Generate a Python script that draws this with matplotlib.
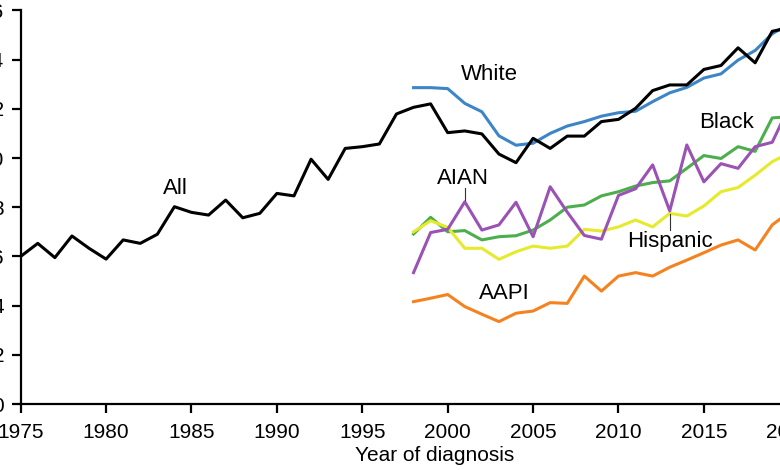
import matplotlib.pyplot as plt

plt.rcParams['font.family'] = ['Liberation Sans', 'DejaVu Sans']

# incidence rates
years_all = list(range(1975, 2021))
all_rate = [6.0, 6.53, 5.95, 6.83, 6.33, 5.89, 6.67, 6.53, 6.9, 8.02,
            7.79, 7.68, 8.29, 7.57, 7.75, 8.56, 8.46, 9.95, 9.13, 10.39,
            10.46, 10.57, 11.79, 12.06, 12.2, 11.03, 11.1, 10.98, 10.16, 9.81,
            10.8, 10.39, 10.89, 10.89, 11.48, 11.57, 12.02, 12.74, 12.97, 12.97,
            13.6, 13.76, 14.48, 13.87, 15.15, 15.3]

years_race = list(range(1998, 2021))
white = [12.86, 12.86, 12.82, 12.22, 11.88, 10.9, 10.52, 10.6, 11.0, 11.3,
         11.48, 11.7, 11.84, 11.9, 12.29, 12.65, 12.87, 13.25, 13.42, 13.98,
         14.37, 15.05, 15.45]
black = [6.91, 7.59, 7.0, 7.05, 6.67, 6.8, 6.84, 7.07, 7.48, 8.0,
         8.09, 8.46, 8.63, 8.86, 9.0, 9.07, 9.58, 10.1, 9.98, 10.46,
         10.27, 11.63, 11.68]
aian = [5.34, 6.97, 7.1, 8.22, 7.07, 7.28, 8.2, 6.8, 8.83, 7.8,
        6.85, 6.7, 8.48, 8.75, 9.72, 7.85, 10.53, 9.03, 9.77, 9.58,
        10.46, 10.64, 12.1]
hispanic = [7.0, 7.45, 7.18, 6.33, 6.33, 5.88, 6.19, 6.42, 6.33, 6.42,
            7.1, 7.03, 7.2, 7.48, 7.2, 7.75, 7.64, 8.05, 8.63, 8.8,
            9.3, 9.85, 10.2]
aapi = [4.16, 4.3, 4.45, 3.96, 3.65, 3.35, 3.69, 3.78, 4.12, 4.09,
        5.2, 4.59, 5.2, 5.34, 5.2, 5.56, 5.85, 6.15, 6.46, 6.67,
        6.26, 7.28, 7.8]

fig = plt.figure(figsize=(7.8, 4.7), dpi=100)
ax = fig.add_axes([20.7 / 780, 66 / 470, 768.6 / 780, 393.6 / 470])

lw = 2.2
ax.plot(years_race, white, color='#3d85c6', lw=lw)
ax.plot(years_race, black, color='#4cae4c', lw=lw)
ax.plot(years_race, hispanic, color='#e6ea2c', lw=lw)
ax.plot(years_race, aian, color='#9b52b5', lw=lw)
ax.plot(years_race, aapi, color='#f5821f', lw=lw)
ax.plot(years_all, all_rate, color='black', lw=lw)

# labels
fs = 16
ax.text(2002.45, 13.4, 'White', fontsize=fs, ha='center', va='center')
ax.text(1984.05, 8.78, 'All', fontsize=fs, ha='center', va='center')
ax.text(2000.9, 9.17, 'AIAN', fontsize=fs, ha='center', va='center')
ax.plot([2001, 2001], [8.29, 8.8], color='#333333', lw=0.8)
ax.text(2016.3, 11.46, 'Black', fontsize=fs, ha='center', va='center')
ax.text(2013.0, 6.6, 'Hispanic', fontsize=fs, ha='center', va='center')
ax.plot([2013, 2013], [7.07, 7.72], color='#333333', lw=0.8)
ax.text(2003.3, 4.51, 'AAPI', fontsize=fs, ha='center', va='center')

ax.set_xlim(1975, 2020)
ax.set_ylim(0, 16)
ax.set_xticks(range(1975, 2021, 5))
ax.set_yticks(range(0, 17, 2))

for s in ['top', 'right']:
    ax.spines[s].set_visible(False)
for s in ['left', 'bottom']:
    ax.spines[s].set_linewidth(1.6)

ax.tick_params(axis='both', direction='out', length=6.5, width=1.6, labelsize=15)
ax.tick_params(axis='x', pad=7)
ax.tick_params(axis='y', pad=5.5)

ax.set_xlabel('Year of diagnosis', fontsize=15)
ax.xaxis.set_label_coords(0.539, -0.107)

fig.savefig('out.png', dpi=100)
